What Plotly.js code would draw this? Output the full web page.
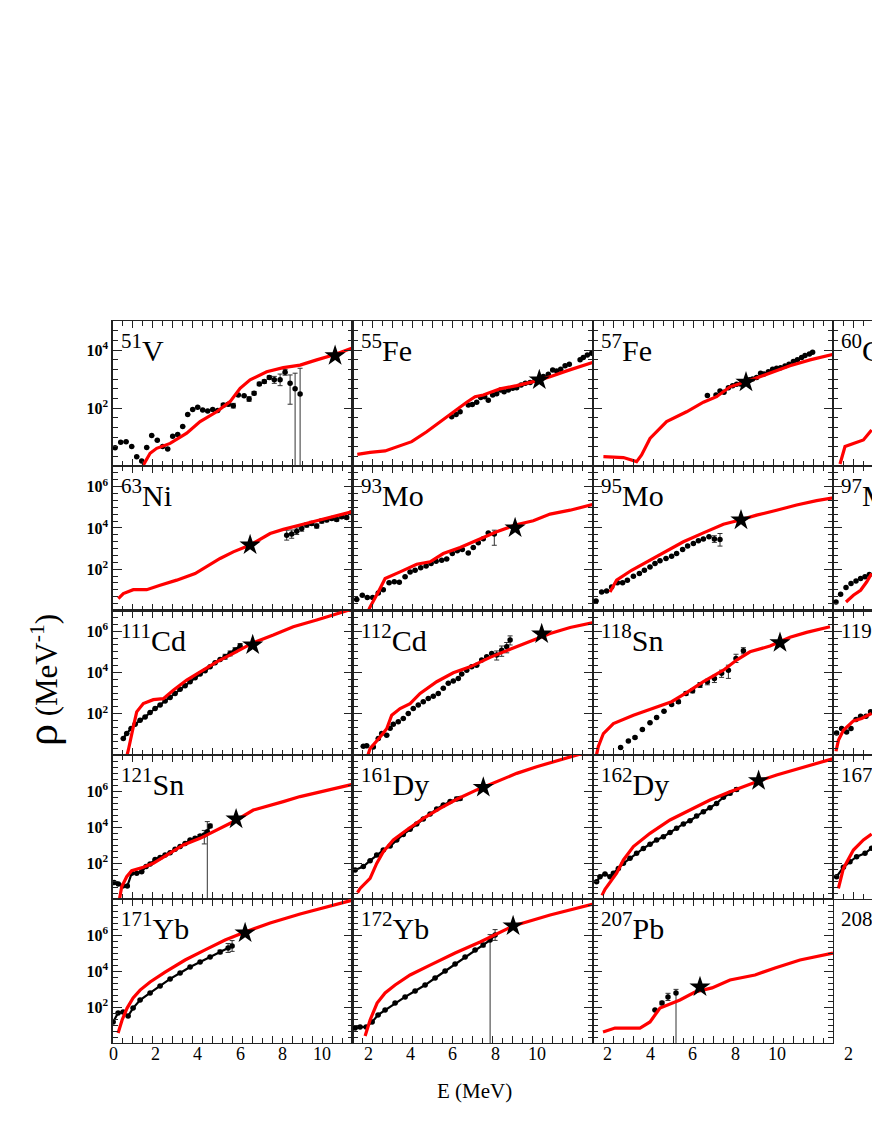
<!DOCTYPE html>
<html><head><meta charset="utf-8">
<script src="https://cdn.plot.ly/plotly-3.0.1.min.js"></script>
<style>html,body{margin:0;padding:0;overflow:hidden;background:#fff;} #chart{width:1112px;height:1128px;}</style>
</head><body><div id="chart"></div>
<script>
// ===== DATA (E in MeV, rho given as log10 of level density in MeV^-1) =====
const V51_modelE = [1.45,1.54,1.88,2.21,2.88,3.71,4.38,5.21,5.88,6.38,6.88,7.71,8.54,9.38,10.21,11.04,11.96];
const V51_modelLogRho = [-0.2,0.03,0.44,0.61,0.78,1.13,1.53,1.87,2.22,2.68,2.97,3.25,3.39,3.48,3.66,3.83,4.06];
const V51_dataE = [0.13,0.41,0.68,0.96,1.21,1.46,1.71,1.96,2.24,2.51,2.76,3.01,3.26,3.51,3.76,4.01,4.26,4.51,4.76,5.01,5.26,5.54,5.79,6.04,6.29,6.58,6.83,7.08,7.34,7.59,7.84,8.09,8.38,8.63,8.88,9.13,9.38];
const V51_dataLogRho = [0.63,0.82,0.84,0.67,0.32,0.17,0.64,1.05,0.89,0.67,0.59,1.03,1.09,1.36,1.78,1.95,2.03,1.93,1.90,1.95,1.91,2.10,2.13,2.08,2.45,2.42,2.31,2.51,2.83,2.91,3.05,2.97,2.97,3.23,2.85,2.66,2.48];
const V51_errUp = [0,0,0,0,0,0,0,0,0,0,0,0,0,0,0,0,0,0,0,0,0,0.06,0.06,0.08,0,0,0.08,0.06,0.06,0.06,0.06,0.12,0.2,0.1,0.29,0.54,0.89];
const V51_errDown = [0,0,0,0,0,0,0,0,0,0,0,0,0,0,0,0,0,0,0,0,0,0.06,0.06,0.08,0,0,0.08,0.06,0.06,0.06,0.06,0.12,0.2,0.1,0.72,9,9];
const V51_starE = [11.13], V51_starLogRho = [3.80];

const Fe55_modelE = [0.24,0.88,1.63,2.21,2.96,3.71,4.38,5.21,5.71,6.13,6.54,7.38,8.21,9.04,9.88,10.71,12.04];
const Fe55_modelLogRho = [0.40,0.47,0.52,0.67,0.84,1.18,1.53,1.93,2.20,2.39,2.45,2.66,2.77,2.91,3.08,3.28,3.58];
const Fe55_dataE = [4.96,5.18,5.38,5.79,5.99,6.21,6.41,6.61,6.79,7.01,7.21,7.41,7.58,7.79,8.01,8.21,8.43,8.64,8.88,9.13,9.34,9.54,9.79,10.01,10.21,10.41,10.63,10.84,11.38,11.54,11.74,11.96];
const Fe55_dataLogRho = [1.70,1.78,1.87,2.10,2.12,2.20,2.36,2.39,2.27,2.45,2.49,2.62,2.56,2.62,2.68,2.70,2.79,2.85,2.88,2.97,3.03,3.09,3.16,3.31,3.28,3.34,3.46,3.51,3.66,3.74,3.83,3.89];
const Fe55_starE = [9.34], Fe55_starLogRho = [2.97];

const Fe57_modelE = [0.52,1.52,2.18,2.43,2.85,3.68,4.68,5.52,6.18,6.85,7.68,8.68,9.85,10.85,12.02];
const Fe57_modelLogRho = [0.32,0.29,0.15,0.38,0.95,1.53,1.87,2.20,2.39,2.73,2.91,3.16,3.46,3.66,3.85];
const Fe57_dataE = [5.72,6.15,6.35,6.55,6.77,6.98,7.18,7.38,7.60,7.82,7.98,8.18,8.38,8.55,8.77,8.98,9.18,9.38,9.60,9.80,10.02,10.22,10.43,10.60,10.82,10.98];
const Fe57_dataLogRho = [2.43,2.45,2.59,2.54,2.70,2.77,2.82,2.83,2.91,2.97,3.00,3.05,3.20,3.17,3.25,3.34,3.37,3.39,3.45,3.51,3.60,3.66,3.74,3.81,3.86,3.92];
const Fe57_starE = [7.65], Fe57_starLogRho = [2.89];

const Co60_modelE = [0.35,0.60,1.02,1.52,1.93];
const Co60_modelLogRho = [0.07,0.67,0.78,0.90,1.24];

const Ni63_modelE = [0.29,0.54,1.04,1.71,2.38,3.21,4.13,4.71,5.38,6.04,6.88,7.88,8.54,9.38,10.21,11.04,11.96];
const Ni63_modelLogRho = [0.58,0.82,1.01,1.01,1.22,1.47,1.79,2.15,2.52,2.84,3.17,3.73,3.93,4.14,4.35,4.54,4.78];
const Ni63_dataE = [8.71,8.96,9.21,9.46,9.71,9.96,10.21,10.46,10.71,10.96,11.21,11.46,11.71,11.96];
const Ni63_dataLogRho = [3.65,3.70,3.84,3.97,4.14,4.22,4.09,4.33,4.38,4.46,4.41,4.54,4.51,4.73];
const Ni63_err = [0.24,0.2,0.16,0.13,0.1,0.1,0.1,0.1,0.08,0.08,0.08,0.08,0.08,0.08];
const Ni63_starE = [6.88], Ni63_starLogRho = [3.17];

const Mo93_modelE = [0.7,0.88,1.29,1.63,2.38,3.21,3.88,4.54,5.38,6.21,7.21,8.13,9.04,9.88,10.88,12.04];
const Mo93_modelLogRho = [-0.2,0.17,0.90,1.55,1.87,2.24,2.36,2.76,3.05,3.41,3.81,4.14,4.35,4.67,4.86,5.14];
const Mo93_dataE = [0.21,0.49,0.74,1.01,1.29,1.54,1.83,2.09,2.34,2.63,2.88,3.13,3.41,3.68,3.93,4.18,4.46,4.71,4.99,5.24,5.49,5.79,6.04,6.29,6.54,6.79,7.09];
const Mo93_dataLogRho = [0.53,0.74,0.63,0.63,0.85,1.01,1.34,1.39,1.37,1.63,1.87,1.95,2.07,2.15,2.28,2.39,2.44,2.50,2.76,2.89,2.96,2.79,3.05,3.28,3.47,3.76,3.70];
const Mo93_errUp = [0,0,0,0,0,0,0,0,0,0,0,0,0,0,0,0,0,0,0,0,0,0,0,0,0,0,0.19];
const Mo93_errDown = [0,0,0,0,0,0,0,0,0,0,0,0,0,0,0,0,0,0,0,0,0,0,0,0,0,0,0.54];
const Mo93_starE = [8.13], Mo93_starLogRho = [4.0];

const Mo95_modelE = [0.85,1.18,1.93,2.85,3.68,4.52,5.52,6.52,7.35,8.18,9.18,10.18,11.18,12.02];
const Mo95_modelLogRho = [0.90,1.47,1.95,2.44,2.89,3.33,3.76,4.18,4.38,4.62,4.86,5.11,5.32,5.46];
const Mo95_dataE = [0.15,0.43,0.68,0.93,1.22,1.48,1.72,2.02,2.32,2.57,2.85,3.10,3.35,3.65,3.93,4.18,4.48,4.73,5.02,5.27,5.52,5.80,6.07,6.35];
const Mo95_dataLogRho = [0.46,0.90,0.95,1.14,1.34,1.34,1.47,1.66,1.79,1.95,2.11,2.28,2.41,2.52,2.63,2.76,2.96,3.12,3.25,3.38,3.46,3.57,3.46,3.44];
const Mo95_errUp = [0,0,0,0,0,0,0,0,0,0,0,0,0,0,0,0,0,0,0,0,0,0,0.16,0.29];
const Mo95_errDown = [0,0,0,0,0,0,0,0,0,0,0,0,0,0,0,0,0,0,0,0,0,0,0.16,0.32];
const Mo95_starE = [7.40], Mo95_starLogRho = [4.38];

const Mo97_modelE = [0.65,1.02,1.38,1.68,1.93];
const Mo97_modelLogRho = [0.41,0.74,0.98,1.38,1.79];
const Mo97_dataE = [0.15,0.38,0.65,0.90,1.15,1.38,1.60,1.82];
const Mo97_dataLogRho = [0.41,0.79,1.11,1.31,1.43,1.55,1.63,1.74];

const Cd111_modelE = [0.65,0.79,1.04,1.21,1.54,2.04,2.54,3.04,3.71,4.38,5.21,6.04,7.04,8.04,9.04,10.21,11.21,11.71,12.1];
const Cd111_modelLogRho = [-0.3,0.23,1.36,2.09,2.49,2.68,2.73,3.14,3.63,4.03,4.51,4.92,5.44,5.81,6.21,6.54,6.86,6.99,7.1];
const Cd111_dataE = [0.54,0.71,0.93,1.13,1.38,1.63,1.88,2.13,2.38,2.63,2.88,3.13,3.38,3.63,3.88,4.13,4.38,4.63,4.88,5.13,5.38,5.63,5.88,6.13,6.38];
const Cd111_dataLogRho = [0.80,1.04,1.28,1.49,1.68,1.84,2.06,2.25,2.42,2.61,2.79,2.98,3.18,3.35,3.55,3.74,3.92,4.08,4.27,4.47,4.63,4.76,4.92,5.08,5.28];
const Cd111_err = [0,0,0,0,0,0,0,0,0,0,0,0,0,0,0,0,0,0,0,0,0,0.12,0.12,0.12,0.12];
const Cd111_starE = [7.01], Cd111_starLogRho = [5.33];

const Cd112_modelE = [0.7,0.88,1.38,1.71,1.96,2.38,2.88,3.38,4.21,5.04,5.88,6.88,7.88,8.88,9.88,10.88,12.04];
const Cd112_modelLogRho = [-0.2,0.31,0.87,1.27,1.93,2.25,2.49,2.98,3.55,3.98,4.27,4.73,5.12,5.50,5.89,6.18,6.41];
const Cd112_dataE = [0.54,0.71,1.04,1.29,1.46,1.71,1.88,2.04,2.29,2.54,2.79,3.04,3.29,3.54,3.79,4.04,4.29,4.54,4.79,5.04,5.29,5.46,5.71,5.96,6.21,6.46,6.71,6.96,7.21,7.46,7.71,7.88];
const Cd112_dataLogRho = [0.42,0.45,0.39,0.80,1.04,0.96,1.29,1.49,1.61,1.77,2.01,2.25,2.42,2.58,2.74,2.85,2.98,3.23,3.47,3.58,3.71,3.92,4.11,4.27,4.35,4.60,4.76,4.92,4.84,5.08,5.25,5.57];
const Cd112_errUp = [0,0,0,0,0,0,0,0,0,0,0,0,0,0,0,0,0,0,0,0,0,0,0,0,0,0,0,0,0.2,0.2,0.2,0.2];
const Cd112_errDown = [0,0,0,0,0,0,0,0,0,0,0,0,0,0,0,0,0,0,0,0,0,0,0,0,0,0,0,0,0.24,0.3,0.3,0.24];
const Cd112_starE = [9.46], Cd112_starLogRho = [5.86];

const Sn118_modelE = [0.15,0.27,0.52,1.02,2.02,3.02,3.93,4.68,5.52,6.52,7.18,7.85,8.85,9.85,10.68,11.85];
const Sn118_modelLogRho = [-0.1,0.42,1.04,1.52,1.93,2.25,2.58,3.02,3.55,4.11,4.60,5.00,5.28,5.70,5.94,6.21];
const Sn118_dataE = [1.38,1.77,2.10,2.47,2.85,3.18,3.55,3.93,4.27,4.65,4.98,5.35,5.72,6.07,6.43,6.77,7.15,7.52];
const Sn118_dataLogRho = [0.36,0.68,0.85,1.23,1.56,1.82,2.12,2.45,2.58,2.98,3.11,3.39,3.55,3.71,3.96,4.11,4.68,5.05];
const Sn118_errUp = [0,0,0.05,0,0,0,0,0.05,0.08,0.08,0.1,0.12,0.12,0.15,0.15,0.24,0.2,0.15];
const Sn118_errDown = [0,0,0.05,0,0,0,0,0.05,0.08,0.08,0.1,0.12,0.15,0.2,0.2,0.4,0.2,0.15];
const Sn118_starE = [9.35], Sn118_starLogRho = [5.44];

const Sn119_modelE = [0.15,0.27,0.52,1.02,1.43,1.93];
const Sn119_modelLogRho = [0.18,0.71,1.20,1.65,1.77,2.01];
const Sn119_dataE = [0.18,0.43,0.68,0.90,1.15,1.38,1.65,1.88];
const Sn119_dataLogRho = [1.07,1.28,1.12,1.28,1.72,1.88,1.88,2.09];

const Sn121_modelE = [0.35,0.46,0.71,0.96,1.54,2.04,2.71,3.54,4.38,5.21,6.21,7.04,7.71,8.54,9.38,10.21,11.04,12.0];
const Sn121_modelLogRho = [0.0,0.68,1.24,1.57,1.76,1.98,2.44,3.00,3.37,3.83,4.39,4.94,5.13,5.41,5.69,5.91,6.15,6.37];
const Sn121_dataE = [0.08,0.29,0.51,0.74,0.96,1.21,1.46,1.68,1.88,2.13,2.38,2.63,2.88,3.13,3.38,3.63,3.88,4.13,4.38,4.59,4.74,4.88];
const Sn121_dataLogRho = [0.91,0.83,0.72,0.72,1.43,1.43,1.52,1.80,1.94,2.20,2.31,2.44,2.57,2.76,2.91,3.09,3.28,3.37,3.50,3.56,3.74,4.06];
const Sn121_errUp = [0,0,0,0,0,0,0,0,0,0,0,0,0,0,0,0,0,0,0.08,0.25,0.56,0.1];
const Sn121_errDown = [0,0,0,0,0,0,0,0,0,0,0,0,0,0,0,0,0,0,0.08,0.5,9,0.1];
const Sn121_starE = [6.18], Sn121_starLogRho = [4.44];

const Dy161_modelE = [0.25,0.38,0.88,1.21,1.54,2.04,2.71,3.54,4.38,5.21,6.21,7.21,8.21,9.21,10.21,11.21,12.0];
const Dy161_modelLogRho = [0.35,0.59,1.15,1.98,2.63,3.28,3.83,4.48,5.04,5.54,6.06,6.52,6.98,7.35,7.69,8.00,8.25];
const Dy161_dataE = [0.13,0.54,0.88,1.21,1.54,1.88,2.21,2.54,2.88,3.21,3.54,3.88,4.21,4.54,4.88,5.21,5.38];
const Dy161_dataLogRho = [1.61,1.80,2.13,2.44,2.72,2.94,3.28,3.59,3.87,4.17,4.44,4.72,5.00,5.22,5.41,5.56,5.59];
const Dy161_err = [0,0,0,0,0,0,0,0,0,0,0,0,0,0,0,0.1,0.1];
const Dy161_starE = [6.54], Dy161_starLogRho = [6.20];

const Dy162_modelE = [0.45,0.60,1.18,1.52,2.02,2.85,3.85,4.85,5.85,6.85,8.18,9.18,10.18,11.18,12.02];
const Dy162_modelLogRho = [0.2,0.54,1.43,2.17,2.91,3.65,4.39,4.94,5.50,5.96,6.52,6.89,7.20,7.52,7.80];
const Dy162_dataE = [0.18,0.35,0.60,0.85,1.02,1.27,1.52,1.85,2.18,2.52,2.85,3.18,3.52,3.85,4.18,4.52,4.85,5.18,5.52,5.85,6.18,6.52,6.85,7.18];
const Dy162_dataLogRho = [0.96,1.24,1.39,1.24,1.43,1.70,1.98,2.26,2.54,2.81,3.04,3.28,3.46,3.69,3.93,4.17,4.35,4.61,4.85,5.07,5.31,5.65,5.87,6.09];
const Dy162_err = [0,0,0,0,0,0,0,0,0,0,0,0,0,0,0,0,0,0,0,0,0,0,0.08,0.1];
const Dy162_starE = [8.28], Dy162_starLogRho = [6.57];

const Er167_modelE = [0.27,0.52,1.02,1.52,1.93];
const Er167_modelLogRho = [0.59,1.70,2.72,3.28,3.61];
const Er167_dataE = [0.18,0.52,0.85,1.18,1.60,1.93];
const Er167_dataLogRho = [1.24,1.76,2.07,2.35,2.54,2.82];

const Yb171_modelE = [0.28,0.48,0.73,1.03,1.38,1.88,2.63,3.63,4.63,5.63,6.63,7.88,9.38,10.88,12.0];
const Yb171_modelLogRho = [0.56,1.28,1.94,2.50,2.94,3.39,3.94,4.61,5.17,5.72,6.17,6.67,7.17,7.61,7.94];
const Yb171_dataE = [0.03,0.28,0.53,0.78,1.03,1.38,1.88,2.38,2.88,3.38,3.88,4.38,4.88,5.38,5.78,5.98];
const Yb171_dataLogRho = [1.17,1.67,1.72,1.50,1.94,2.39,2.78,3.17,3.56,3.89,4.22,4.50,4.78,5.06,5.28,5.39];
const Yb171_err = [0,0,0,0,0,0,0,0,0,0,0,0,0,0.1,0.25,0.3];
const Yb171_starE = [6.63], Yb171_starLogRho = [6.11];

const Yb172_modelE = [0.63,0.88,1.23,1.63,2.13,2.88,3.88,5.13,6.38,8.03,9.88,12.03];
const Yb172_modelLogRho = [0.39,1.28,2.22,2.78,3.22,3.78,4.33,5.00,5.61,6.50,7.11,7.72];
const Yb172_dataE = [0.13,0.38,0.68,0.98,1.28,1.63,2.13,2.63,3.13,3.63,4.13,4.63,5.13,5.63,6.13,6.53,6.88,7.13];
const Yb172_dataLogRho = [0.83,0.89,0.89,1.17,1.56,1.83,2.22,2.56,2.89,3.22,3.61,4.00,4.39,4.78,5.17,5.44,5.72,6.00];
const Yb172_errUp = [0,0,0,0,0,0,0,0,0,0,0,0,0,0,0,0.1,0.3,0.3];
const Yb172_errDown = [0,0,0,0,0,0,0,0,0,0,0,0,0,0,0,0.1,9,0.3];
const Yb172_starE = [8.03], Yb172_starLogRho = [6.5];

const Pb207_modelE = [0.5,1.1,2.35,2.85,3.35,4.35,5.1,5.95,6.85,8.1,9.1,10.35,12.0];
const Pb207_modelLogRho = [0.61,0.83,0.83,1.17,1.94,2.39,2.83,3.06,3.5,3.78,4.17,4.61,5.0];
const Pb207_dataE = [3.1,3.45,3.75,4.15];
const Pb207_dataLogRho = [1.83,2.22,2.56,2.78];
const Pb207_errUp = [0,0.1,0.2,0.2];
const Pb207_errDown = [0,0.1,0.2,9];
const Pb207_starE = [5.35], Pb207_starLogRho = [3.11];

const nucleusLabels = ['<sup>51</sup>V','<sup>55</sup>Fe','<sup>57</sup>Fe','<sup>60</sup>Co',
 '<sup>63</sup>Ni','<sup>93</sup>Mo','<sup>95</sup>Mo','<sup>97</sup>Mo',
 '<sup>111</sup>Cd','<sup>112</sup>Cd','<sup>118</sup>Sn','<sup>119</sup>Sn',
 '<sup>121</sup>Sn','<sup>161</sup>Dy','<sup>162</sup>Dy','<sup>167</sup>Er',
 '<sup>171</sup>Yb','<sup>172</sup>Yb','<sup>207</sup>Pb','<sup>208</sup>Pb'];
// bottom energy labels as printed under each column of the reference
const eLabelText = ['0','2','4','6','8','10', '2','4','6','8','10', '2','4','6','8','10', '2','4','6','8','10'];
const yLabelExps = [2,4,6];

// ===== build panels from the arrays =====
const panels = [
 {mE:V51_modelE,mL:V51_modelLogRho,dE:V51_dataE,dL:V51_dataLogRho,eU:V51_errUp,eD:V51_errDown,sE:V51_starE,sL:V51_starLogRho},
 {mE:Fe55_modelE,mL:Fe55_modelLogRho,dE:Fe55_dataE,dL:Fe55_dataLogRho,sE:Fe55_starE,sL:Fe55_starLogRho},
 {mE:Fe57_modelE,mL:Fe57_modelLogRho,dE:Fe57_dataE,dL:Fe57_dataLogRho,sE:Fe57_starE,sL:Fe57_starLogRho},
 {mE:Co60_modelE,mL:Co60_modelLogRho},
 {mE:Ni63_modelE,mL:Ni63_modelLogRho,dE:Ni63_dataE,dL:Ni63_dataLogRho,eU:Ni63_err,eD:Ni63_err,sE:Ni63_starE,sL:Ni63_starLogRho},
 {mE:Mo93_modelE,mL:Mo93_modelLogRho,dE:Mo93_dataE,dL:Mo93_dataLogRho,eU:Mo93_errUp,eD:Mo93_errDown,sE:Mo93_starE,sL:Mo93_starLogRho},
 {mE:Mo95_modelE,mL:Mo95_modelLogRho,dE:Mo95_dataE,dL:Mo95_dataLogRho,eU:Mo95_errUp,eD:Mo95_errDown,sE:Mo95_starE,sL:Mo95_starLogRho},
 {mE:Mo97_modelE,mL:Mo97_modelLogRho,dE:Mo97_dataE,dL:Mo97_dataLogRho},
 {mE:Cd111_modelE,mL:Cd111_modelLogRho,dE:Cd111_dataE,dL:Cd111_dataLogRho,eU:Cd111_err,eD:Cd111_err,sE:Cd111_starE,sL:Cd111_starLogRho,dense:true},
 {mE:Cd112_modelE,mL:Cd112_modelLogRho,dE:Cd112_dataE,dL:Cd112_dataLogRho,eU:Cd112_errUp,eD:Cd112_errDown,sE:Cd112_starE,sL:Cd112_starLogRho},
 {mE:Sn118_modelE,mL:Sn118_modelLogRho,dE:Sn118_dataE,dL:Sn118_dataLogRho,eU:Sn118_errUp,eD:Sn118_errDown,sE:Sn118_starE,sL:Sn118_starLogRho},
 {mE:Sn119_modelE,mL:Sn119_modelLogRho,dE:Sn119_dataE,dL:Sn119_dataLogRho},
 {mE:Sn121_modelE,mL:Sn121_modelLogRho,dE:Sn121_dataE,dL:Sn121_dataLogRho,eU:Sn121_errUp,eD:Sn121_errDown,sE:Sn121_starE,sL:Sn121_starLogRho,dense:true},
 {mE:Dy161_modelE,mL:Dy161_modelLogRho,dE:Dy161_dataE,dL:Dy161_dataLogRho,eU:Dy161_err,eD:Dy161_err,sE:Dy161_starE,sL:Dy161_starLogRho,dense:true},
 {mE:Dy162_modelE,mL:Dy162_modelLogRho,dE:Dy162_dataE,dL:Dy162_dataLogRho,eU:Dy162_err,eD:Dy162_err,sE:Dy162_starE,sL:Dy162_starLogRho,dense:true},
 {mE:Er167_modelE,mL:Er167_modelLogRho,dE:Er167_dataE,dL:Er167_dataLogRho,dense:true},
 {mE:Yb171_modelE,mL:Yb171_modelLogRho,dE:Yb171_dataE,dL:Yb171_dataLogRho,eU:Yb171_err,eD:Yb171_err,sE:Yb171_starE,sL:Yb171_starLogRho,dense:true},
 {mE:Yb172_modelE,mL:Yb172_modelLogRho,dE:Yb172_dataE,dL:Yb172_dataLogRho,eU:Yb172_errUp,eD:Yb172_errDown,sE:Yb172_starE,sL:Yb172_starLogRho,dense:true},
 {mE:Pb207_modelE,mL:Pb207_modelLogRho,dE:Pb207_dataE,dL:Pb207_dataLogRho,eU:Pb207_errUp,eD:Pb207_errDown,sE:Pb207_starE,sL:Pb207_starLogRho},
 {}
];

// ===== layout geometry (pixels) =====
const W = 1112, H = 1128;
const colLeft = [112.5, 352.5, 593, 833], colW = 240;
const rowTop = [321, 466, 610.5, 755, 899], rowBot = [466, 610.5, 755, 899, 1043];
const rowRange = [[0,5],[0,7],[0,7],[0,8],[0,8]];
// horizontal pixel positions of the bottom energy labels, as placed in the reference
const eLabelPx = [113,155,197,240,282,322, 368,410,452,495,537, 607,650,692,735,777, 848,890,932,975,1017];
const FONT = '"Liberation Serif", "Times New Roman", serif';
const p10 = v => Math.pow(10, v);
const AX = '#222';

const traces = [];
const layout = {
  width: W, height: H, autosize: false,
  margin: {l:0, r:0, t:0, b:0},
  paper_bgcolor: '#fff', plot_bgcolor: '#fff',
  showlegend: false,
  font: {family: FONT, color: '#000'},
  annotations: []
};

panels.forEach((p, i) => {
  const r = Math.floor(i / 4), c = i % 4, n = i + 1;
  const xa = 'x' + n, ya = 'y' + n;
  const xk = n === 1 ? 'xaxis' : 'xaxis' + n, yk = n === 1 ? 'yaxis' : 'yaxis' + n;
  const [lo, hi] = rowRange[r];
  const minorVals = [];
  for (let k = Math.floor(lo); k <= Math.ceil(hi); k++) { minorVals.push(p10(k), p10(k + 1/3), p10(k + 2/3)); }
  const yLab = yLabelExps.filter(k => k > lo && k < hi - 0.2);
  layout[xk] = {
    domain: [colLeft[c] / W, (colLeft[c] + colW) / W], range: [0, 12], anchor: ya,
    showline: true, mirror: 'allticks', linecolor: AX, linewidth: 1.3,
    ticks: 'inside', ticklen: 7, tickwidth: 1, tickcolor: AX,
    tickmode: 'linear', tick0: 0, dtick: 1,
    minor: {tickmode: 'linear', tick0: 0, dtick: 0.5, ticks: 'inside', ticklen: 5, tickwidth: 1, tickcolor: AX, showgrid: false},
    showticklabels: false,
    showgrid: false, zeroline: false, fixedrange: true
  };
  layout[yk] = {
    domain: [1 - rowBot[r] / H, 1 - rowTop[r] / H], type: 'log', range: [lo, hi], anchor: xa,
    showline: true, mirror: 'allticks', linecolor: AX, linewidth: 1.3,
    ticks: 'inside', ticklen: 9, tickwidth: 1, tickcolor: AX,
    tickmode: 'array', tickvals: yLab.map(p10),
    ticktext: yLab.map(k => '<b>10<sup>' + k + '</sup></b>'),
    minor: {tickmode: 'array', tickvals: minorVals, ticks: 'inside', ticklen: 5, tickwidth: 1, tickcolor: AX, showgrid: false},
    showticklabels: c === 0, tickfont: {family: FONT, size: 16, color: '#000'},
    showgrid: false, zeroline: false, fixedrange: true
  };
  if (p.dE) {
    const y = p.dL.map(p10);
    const t = {x: p.dE, y: y, xaxis: xa, yaxis: ya, mode: p.dense ? 'lines+markers' : 'markers',
      line: {color: '#000', width: 2.2}, marker: {color: '#000', size: 5.5}, hoverinfo: 'skip'};
    if (p.eU) t.error_y = {type: 'data', symmetric: false,
      array: p.dL.map((v, j) => p10(v + p.eU[j]) - p10(v)),
      arrayminus: p.dL.map((v, j) => p10(v) - p10(v - p.eD[j])),
      color: '#333', thickness: 1, width: 2.5, visible: true};
    traces.push(t);
  }
  if (p.mE) traces.push({x: p.mE, y: p.mL.map(p10), xaxis: xa, yaxis: ya, mode: 'lines',
    line: {color: '#ff0000', width: 3.2}, hoverinfo: 'skip'});
  if (p.sE) traces.push({x: p.sE, y: p.sL.map(p10), xaxis: xa, yaxis: ya, mode: 'markers',
    marker: {symbol: 'star', color: '#000', size: 16}, hoverinfo: 'skip'});
  layout.annotations.push({
    text: nucleusLabels[i], xref: 'paper', yref: 'paper',
    x: (colLeft[c] + 6) / W, y: 1 - (rowTop[r] + 6) / H, xanchor: 'left', yanchor: 'top',
    showarrow: false, font: {family: FONT, size: 30, color: '#000'}
  });
});

eLabelText.forEach((t, j) => layout.annotations.push({
  text: t, xref: 'paper', yref: 'paper', x: eLabelPx[j] / W, y: 1 - 1054 / H,
  xanchor: 'center', yanchor: 'middle', showarrow: false, font: {family: FONT, size: 18, color: '#000'}
}));
layout.annotations.push({
  text: 'E (MeV)', xref: 'paper', yref: 'paper', x: 474 / W, y: 1 - 1091 / H,
  xanchor: 'center', yanchor: 'middle', showarrow: false, font: {family: FONT, size: 21, color: '#000'}
});
layout.annotations.push({
  text: '<span style="font-size:44px">ρ</span> (MeV<sup>-1</sup>)', xref: 'paper', yref: 'paper',
  x: 42 / W, y: 1 - 680 / H, xanchor: 'center', yanchor: 'middle', textangle: -90,
  showarrow: false, font: {family: FONT, size: 31, color: '#000'}
});

Plotly.newPlot('chart', traces, layout, {staticPlot: true, displayModeBar: false});
</script></body></html>
